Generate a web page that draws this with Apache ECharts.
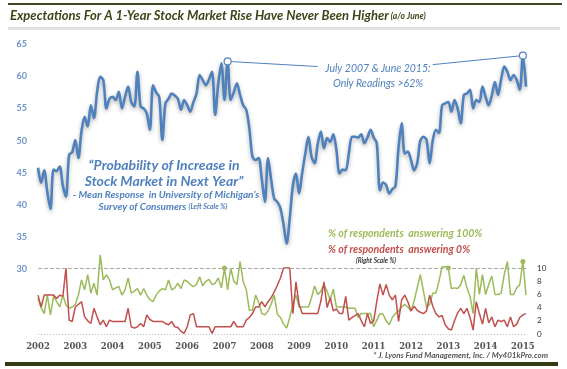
<!DOCTYPE html>
<html><head><meta charset="utf-8">
<script src="https://cdn.jsdelivr.net/npm/echarts@6/dist/echarts.min.js"></script>
<style>html,body{margin:0;padding:0;background:#fff}#c{width:567px;height:369px}</style>
</head><body><div id="c"></div>
<script>
// year tick labels (each label sits on June of that year)
const yearLabels = ['2002','2003','2004','2005','2006','2007','2008','2009','2010','2011','2012','2013','2014','2015'];
const monthNames = ['06','07','08','09','10','11','12','01','02','03','04','05'];
// monthly categories: June 2002 .. July 2015
const categories = [];
for (let y = 0; y < yearLabels.length; y++) {
  for (let m = 0; m < 12; m++) {
    const yr = m < 7 ? yearLabels[y] : String(+yearLabels[y] + 1);
    categories.push(yr + '-' + monthNames[m]);
    if (categories.length === 158) break;
  }
}
for (let k = categories.length; k < 158; k++) categories.push('2015-07');

// Mean probability of stock market increase (left scale %)
const expectation = [
45.8,43.5,45.4,42,39.4,45.5,45.3,46,43,41.3,47.8,48.2,50.1,47.3,51.5,53.7,52.2,55.5,53.5,57.5,
59.9,59.4,55,56.5,56.8,56.3,57.6,55,56.8,58.4,56,55.3,60.7,55.3,55,54.2,51.7,58.6,57.5,56.8,
50.1,55.8,56.5,57.3,57,56.5,54.8,56.3,55.5,54.5,56,57.3,60.2,59.4,58.6,59.5,60.7,54,58.9,62,
56.3,62.3,56.3,57.5,58.9,57.1,55.5,54.8,51.9,47.5,47,47.3,44,40.5,47.3,44,41,40.5,39.5,37,
34,38,43,44.9,41.8,45,48,50.6,47.5,46.5,49.5,51.4,48.8,50.4,49.8,51,48.6,44.9,45.5,45.4,
48,50.6,50.6,50.5,51,49.6,50.5,51.7,50.5,49.6,42.3,43.5,43.1,41.8,42.5,42.9,49,52.7,48,48.3,
47,45.4,46.5,50,50.6,50.1,46.5,50,51.7,51.2,55.5,55.8,56,54.5,56.3,55,52.7,57.1,57.3,57.9,
55,56.3,56,58.4,56.8,55.5,57,59.1,57.1,59.5,61.5,60.7,59.4,60.2,59.4,57.9,63.2,58.4
];
// % of respondents answering 100% (right scale)
const answer100 = [
5.4,4,3.1,5.9,2.9,5.7,4.9,4.1,5.9,4.4,3.9,4.1,4.5,5.9,8.2,6.7,9,6.2,7.7,5.9,
12,8.2,9,8.2,6.7,7,7.2,5.9,6.7,8.5,6.2,6.5,6.9,5.9,6.9,5.9,5.2,4.9,5.9,6.5,
6.9,6.7,8.2,6.7,7,7.7,6.9,8.2,8,7.5,7.2,7.5,8.7,7.3,8,8.3,7.5,7.7,8.5,7,
10,6.7,10,8,7.5,11,8,6.7,3.6,3.6,5.9,4.8,3.1,2.9,3.5,4.5,5.9,3,2.5,1.5,
0.9,2.5,4.5,5.9,4.1,4.1,4.1,4.1,5.5,7.3,6,6.5,7.5,6.5,5.2,6.8,4.1,4.1,4.1,4.1,
3.9,3.9,3.9,2.5,3.1,3.1,3.1,3.1,1.1,2.1,3.1,3,2,1.4,2.5,3.1,3.5,4.1,4.5,4.1,
3.5,5,7,9,6.5,4,4.5,6.2,6.2,8,10.2,10.2,10,6.9,7,6.9,7.5,8.9,7,5.7,
3.1,10,6,9,6,7.5,8.8,6,6,6.2,9,11,6,6,7,7.5,11,5.9
];
// % of respondents answering 0% (right scale)
const answer0 = [
5.9,4.1,5.9,5.9,5.9,5.9,5.4,5.9,5.7,10,2.1,1.9,4.1,4.5,4.9,2.6,2,1.6,3.9,2.6,
1.4,2.1,1.1,2.1,1.9,1.9,1.9,1.9,1.9,3.9,1.1,0.9,1.1,1.6,1.1,2.9,2.2,1.9,1.9,1.9,
1.9,1.6,1.4,1.9,1.1,1,0.4,0.1,1.1,2.9,3.1,1.1,1.1,1.1,1.1,1.1,0.1,1.1,1.1,1.1,
1.1,1.1,1.1,1.9,1.1,1.1,1.1,2.1,2.5,3.1,4.1,4.1,4.9,4.1,4.9,5.5,6.4,7.4,8.5,10,
10,10,3.1,7.9,4.5,3.1,3.1,3.1,3.1,3.1,3.1,5,7.9,4,5.5,3.5,3.8,3.1,3.1,5.7,
2.1,2.5,2.8,3.1,2,1.1,3.1,1.6,2,5,7.6,5.9,7.5,5.9,5.2,5.9,1.9,5.2,5.9,4.9,
3.5,4.2,3.6,3.3,3.1,3.5,5.9,4.2,3.1,2.6,2.8,1.4,0.8,0.6,2,3.2,3.9,3.1,3.9,2.5,
0.6,4.9,3.1,1.5,3.9,1.7,2.6,1.1,2.1,1.9,2.1,1.1,2.6,1.1,1.5,2.5,2.9,3.1
];
// highlighted readings (indices into the monthly series)
const peakIdx = [61, 156];

const BLUE = '#4f81bd', GREEN = '#9bbb59', RED = '#c0504d';
const FF = "Lato, sans-serif";

const chart = echarts.init(document.getElementById('c'), null, {renderer: 'canvas'});
chart.setOption({
  animation: false,
  grid: {left: 38, right: 41, top: 44, bottom: 35, containLabel: false},
  xAxis: {
    type: 'category', data: categories, boundaryGap: false,
    axisLine: {show: false}, axisTick: {show: false},
    axisLabel: {interval: 11, formatter: v => v.slice(0, 4), color: '#555', fontSize: 8.5,
      fontWeight: 'bold', fontFamily: "'DejaVu Serif', serif", margin: 8}
  },
  yAxis: [
    {type: 'value', min: 20, max: 65, interval: 5, position: 'left',
     axisLine: {show: false}, axisTick: {show: false}, splitLine: {show: false},
     axisLabel: {formatter: v => v >= 30 ? String(v) : '', color: '#6f95c8', fontSize: 9,
       fontWeight: 'bold', fontFamily: FF, margin: 11}},
    {type: 'value', min: 0, max: 44, interval: 2, position: 'right',
     axisLine: {show: false}, axisTick: {show: false}, splitLine: {show: false},
     axisLabel: {formatter: v => v <= 10 ? String(v) : '', color: '#333', fontSize: 8,
       fontFamily: FF, margin: 11}}
  ],
  series: [
    {type: 'line', name: '100%', yAxisIndex: 1, data: answer100,
     symbol: v => v >= 10 ? 'circle' : 'none', symbolSize: 5, showSymbol: true,
     itemStyle: {color: GREEN}, lineStyle: {color: GREEN, width: 1.5}, z: 2,
     markLine: {silent: true, symbol: 'none', label: {show: false},
       data: [
         {yAxis: 10, lineStyle: {color: '#aaa', type: [4, 2], width: 1}},
         {yAxis: 0, lineStyle: {color: '#bbb', type: [1, 2], width: 1}}
       ]}},
    {type: 'line', name: '0%', yAxisIndex: 1, data: answer0,
     symbol: v => v >= 10 ? 'circle' : 'none', symbolSize: 5, showSymbol: true,
     itemStyle: {color: RED}, lineStyle: {color: RED, width: 1.5}, z: 3},
    {type: 'line', name: 'Probability', yAxisIndex: 0, data: expectation,
     showSymbol: false, smooth: 0.3,
     lineStyle: {color: BLUE, width: 2.6, shadowColor: 'rgba(0,0,0,0.3)', shadowBlur: 4, shadowOffsetY: 2},
     z: 4,
     markLine: {silent: true, symbol: 'none', label: {show: false},
       lineStyle: {color: BLUE, width: 1, type: 'solid'},
       data: [
         [{coord: [peakIdx[0], expectation[peakIdx[0]]]}, {coord: [90, 61.5]}],
         [{coord: [127, 61.8]}, {coord: [peakIdx[1], expectation[peakIdx[1]]]}]
       ]},
     markPoint: {silent: true, symbol: 'circle', symbolSize: 7, label: {show: false},
       itemStyle: {color: '#fff', borderColor: BLUE, borderWidth: 1.2},
       data: peakIdx.map(i => ({coord: [i, expectation[i]]}))}}
  ],
  graphic: [
    {type: 'rect', shape: {x: 8, y: 3, width: 554, height: 2}, style: {fill: '#3d4a1e'}},
    {type: 'rect', shape: {x: 8, y: 27, width: 552, height: 3}, style: {fill: '#e2e2e2'}},
    {type: 'rect', shape: {x: 5, y: 362, width: 553, height: 4}, style: {fill: '#323c14'}},
    {type: 'text', x: 10, y: 16, style: {
      text: '{a|Expectations For A 1-Year Stock Market Rise Have Never Been Higher}{b| (a/o June)}',
      verticalAlign: 'middle',
      rich: {
        a: {font: "italic bold 13px " + FF, fill: '#3a4719'},
        b: {font: "italic bold 8.5px " + FF, fill: '#3a4719'}
      }}},
    {type: 'text', x: 164, y: 165, style: {text: '\u201cProbability of Increase in', textAlign: 'center',
      verticalAlign: 'middle', font: "italic bold 14px " + FF, fill: BLUE}},
    {type: 'text', x: 164, y: 181, style: {text: 'Stock Market in Next Year\u201d', textAlign: 'center',
      verticalAlign: 'middle', font: "italic bold 14px " + FF, fill: BLUE}},
    {type: 'text', x: 166, y: 195, style: {text: "- Mean Response  in University of Michigan\u2019s", textAlign: 'center',
      verticalAlign: 'middle', font: "italic bold 10px " + FF, fill: BLUE}},
    {type: 'text', x: 163, y: 207, style: {
      text: '{a|Survey of Consumers }{b|(Left Scale %)}', textAlign: 'center', verticalAlign: 'middle',
      rich: {a: {font: "italic bold 10px " + FF, fill: BLUE}, b: {font: "italic bold 7px " + FF, fill: BLUE}}}},
    {type: 'text', x: 378, y: 69, style: {text: 'July 2007 & June 2015:', textAlign: 'center',
      verticalAlign: 'middle', font: "italic 10.5px " + FF, fill: BLUE}},
    {type: 'text', x: 378, y: 84, style: {text: 'Only Readings >62%', textAlign: 'center',
      verticalAlign: 'middle', font: "italic 10.5px " + FF, fill: BLUE}},
    {type: 'text', x: 328, y: 234, style: {text: '% of respondents  answering 100%',
      verticalAlign: 'middle', font: "italic bold 10.5px " + FF, fill: GREEN}},
    {type: 'text', x: 328, y: 250, style: {text: '% of respondents  answering 0%',
      verticalAlign: 'middle', font: "italic bold 10.5px " + FF, fill: RED}},
    {type: 'text', x: 376, y: 261, style: {text: '(Right Scale %)', textAlign: 'center',
      verticalAlign: 'middle', font: "italic bold 6.5px " + FF, fill: '#333'}},
    {type: 'text', x: 548, y: 355, style: {text: '* J. Lyons Fund Management, Inc. / My401kPro.com', textAlign: 'right',
      verticalAlign: 'middle', font: "italic bold 8px " + FF, fill: '#555'}}
  ]
});
</script></body></html>
